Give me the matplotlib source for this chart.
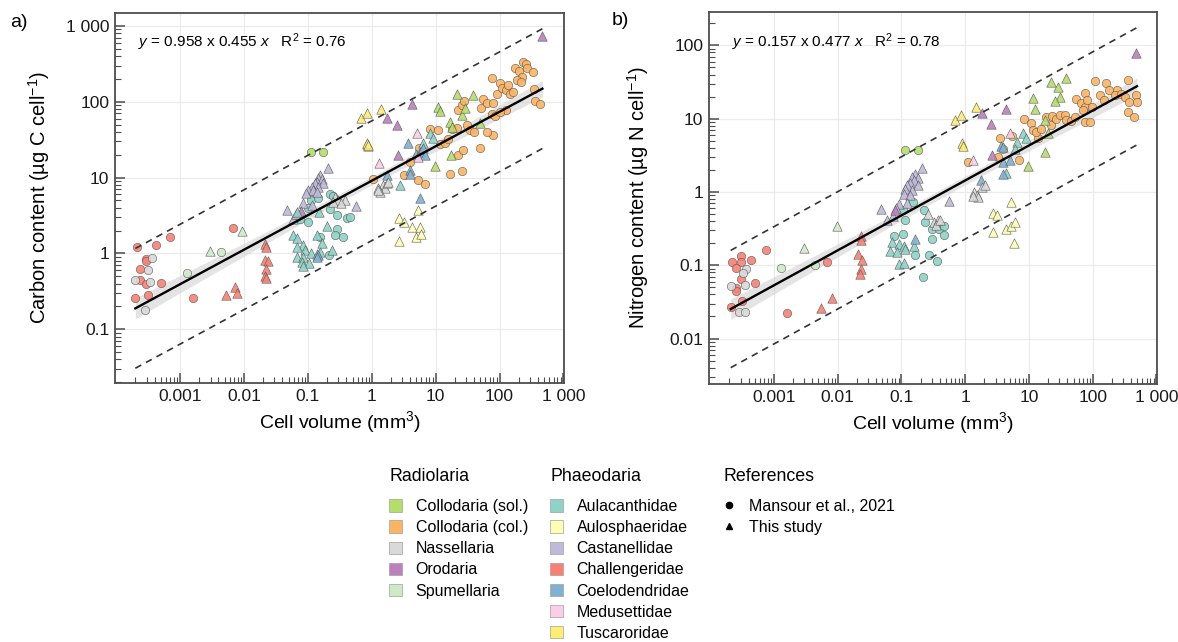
import numpy as np
import matplotlib
matplotlib.use('Agg')
import matplotlib.pyplot as plt
from matplotlib.patches import Patch
from matplotlib.lines import Line2D
from matplotlib.ticker import LogLocator, NullFormatter

plt.rcParams['font.family'] = ['Liberation Sans', 'DejaVu Sans']
plt.rcParams['mathtext.fontset'] = 'custom'
plt.rcParams['mathtext.rm'] = 'Liberation Sans'
plt.rcParams['mathtext.it'] = 'Liberation Sans:italic'
plt.rcParams['mathtext.bf'] = 'Liberation Sans:bold'

# ---------------- panel a: carbon (ug C cell-1) vs cell volume (mm3) ----------------
# circles = Mansour et al., 2021 ; triangles = this study
a_chall_circ_x = [2.1e-4, 4.2e-4, 7.0e-4, 6.7e-3, 2.9e-4, 2.9e-4, 2.4e-4, 2.4e-4, 2.9e-4, 5.0e-4, 2.0e-4, 3.1e-4, 1.6e-3]
a_chall_circ_y = [1.2, 1.28, 1.66, 2.18, 0.84, 0.79, 0.63, 0.44, 0.40, 0.41, 0.26, 0.28, 0.26]
a_nass_circ_x = [3.6e-4, 3.1e-4, 2.0e-4, 3.4e-4, 2.8e-4]
a_nass_circ_y = [0.87, 0.60, 0.44, 0.42, 0.18]
a_spum_circ_x = [4.3e-3, 1.3e-3]
a_spum_circ_y = [1.04, 0.55]
a_csol_circ_x = [0.111, 0.175]
a_csol_circ_y = [21.5, 21.5]
a_aulac_circ_x = [0.112, 0.146, 0.222, 0.102, 0.222, 0.29, 0.102, 0.41, 0.46, 0.29, 0.27, 0.35, 0.155, 0.217, 0.075, 0.245]
a_aulac_circ_y = [5.0, 5.4, 6.1, 4.0, 3.8, 3.2, 2.6, 2.9, 3.0, 2.1, 1.74, 1.66, 1.66, 0.95, 2.8, 5.8]
a_ccol_circ_x = [1.06, 3.2, 4.0, 5.4, 5.2, 6.7, 8.2, 10.8, 11.7, 14.0, 15.5, 16.8, 22.6, 27, 25.6, 18.2, 21.4, 22.6,
                 25.6, 27.8, 30.7, 34.5, 40, 49.5, 50.8, 54.6, 63, 78, 75.5, 80, 75.5, 85, 90, 102, 108, 126, 137,
                 146, 161, 175, 204, 223, 190, 215, 236, 257, 267, 331, 347, 360, 430, 125, 102, 64]
a_ccol_circ_y = [9.6, 10.9, 16, 24.5, 9.2, 8.3, 44, 43, 28, 29, 32.5, 11.2, 20, 22.8, 12.1, 44, 45, 79,
                 90, 101, 49, 43, 40, 24.5, 83, 108, 97, 97, 205, 36.7, 69.5, 64.7, 128, 177, 152, 144, 164,
                 128, 134, 279, 252, 212, 192, 182, 334, 317, 279, 247, 149, 101, 94, 79, 73, 40]

a_spum_tri_x = [2.9e-3, 9.3e-3]
a_spum_tri_y = [1.08, 2.0]
a_chall_tri_x = [7.3e-3, 5.2e-3, 7.9e-3, 0.021, 0.022, 0.021, 0.024, 0.022, 0.021, 0.022]
a_chall_tri_y = [0.36, 0.28, 0.30, 1.33, 1.21, 0.82, 0.79, 0.62, 0.50, 0.47]
a_cast_tri_x = [0.205, 0.155, 0.146, 0.165, 0.138, 0.130, 0.175, 0.115, 0.146, 0.102, 0.122, 0.094, 0.138,
                0.085, 0.115, 0.047, 0.058, 0.065, 0.57]
a_cast_tri_y = [13.2, 10.8, 9.8, 9.5, 8.8, 8.4, 8.4, 7.6, 7.6, 6.8, 6.8, 6.2, 6.5, 4.6, 4.3, 3.7, 2.8, 3.3, 4.2]
a_orod_tri_x = [0.077, 1.75, 2.5, 4.3, 2.55, 468]
a_orod_tri_y = [3.6, 61, 50, 94, 20, 736]
a_aulac_tri_x = [0.067, 0.151, 0.198, 0.059, 0.138, 0.165, 0.067, 0.083, 0.067, 0.090, 0.111, 0.067, 0.085,
                 0.237, 0.155, 0.080, 0.105, 0.085, 0.138, 8.2, 9.2, 2.8, 6.4]
a_aulac_tri_y = [3.5, 3.5, 2.3, 1.74, 1.74, 1.36, 1.58, 1.29, 1.22, 1.1, 1.0, 0.90, 0.90,
                 1.1, 1.05, 0.77, 0.75, 0.68, 0.97, 39, 33, 7.9, 29]
a_coel_tri_x = [0.146, 0.138, 3.7, 4.9, 5.7, 6.4, 6.8, 1.75, 4.0, 3.9, 5.7]
a_coel_tri_y = [0.95, 0.90, 28.8, 20.6, 22, 24.5, 20, 10.9, 12.4, 11.2, 5.3]
a_nass_tri_x = [0.27, 0.30, 0.38, 0.25, 0.33, 1.52, 1.61, 1.27, 1.35, 1.72, 1.82, 1.27]
a_nass_tri_y = [5.5, 5.0, 5.0, 4.8, 4.6, 8.0, 7.2, 7.2, 6.5, 8.4, 8.7, 6.8]
a_tusc_tri_x = [0.85, 0.88, 0.67, 0.84, 1.40, 0.84, 0.88]
a_tusc_tri_y = [28, 26, 61, 72, 81, 29, 27]
a_medu_tri_x = [1.30, 5.1, 5.2]
a_medu_tri_y = [15.7, 39, 18.6]
a_aulos_tri_x = [2.7, 3.2, 5.3, 4.3, 5.6, 4.9, 5.8, 2.7]
a_aulos_tri_y = [2.9, 2.6, 3.7, 2.2, 2.2, 1.66, 1.78, 1.47]
a_csol_tri_x = [21.4, 38, 11.0, 11.7, 25.6, 28.8, 16.8, 17.9, 49.5, 17.2, 9.8]
a_csol_tri_y = [128, 124, 85, 75, 66, 83, 54, 46, 53, 19.6, 14.2]

# ---------------- panel b: nitrogen (ug N cell-1) vs cell volume (mm3) ----------------
b_chall_circ_x = [2.2e-4, 3.1e-4, 3.1e-4, 2.5e-4, 4.4e-4, 7.4e-4, 3.1e-4, 2.5e-4, 2.5e-4, 5.1e-4, 2.1e-4, 3.2e-4, 1.6e-3, 6.9e-3]
b_chall_circ_y = [0.111, 0.132, 0.111, 0.093, 0.117, 0.16, 0.064, 0.049, 0.045, 0.058, 0.027, 0.033, 0.022, 0.11]
b_nass_circ_x = [3.7e-4, 3.3e-4, 2.1e-4, 3.5e-4, 2.8e-4, 3.5e-4]
b_nass_circ_y = [0.090, 0.079, 0.052, 0.054, 0.023, 0.023]
b_spum_circ_x = [1.3e-3, 4.4e-3]
b_spum_circ_y = [0.093, 0.10]
b_csol_circ_x = [0.115, 0.179]
b_csol_circ_y = [3.7, 3.7]
b_aulac_circ_x = [0.151, 0.105, 0.227, 0.115, 0.235, 0.30, 0.39, 0.47, 0.47, 0.30, 0.105, 0.077, 0.164, 0.27, 0.36, 0.221]
b_aulac_circ_y = [0.73, 0.56, 0.56, 0.42, 0.385, 0.31, 0.31, 0.34, 0.26, 0.226, 0.267, 0.25, 0.136, 0.136, 0.113, 0.069]
b_ccol_circ_x = [1.09, 3.5, 3.3, 3.9, 5.5, 7.0, 8.3, 10.9, 11.6, 13.9, 13.1, 15.7, 18.3, 22.5, 23.3, 26.9, 30.3,
                 36.3, 38.5, 46, 52, 55, 66, 74.5, 74.5, 77, 160, 183, 109, 242, 227, 278, 362, 318, 365, 480,
                 494, 362, 450, 81, 99, 70, 92, 128, 153]
b_ccol_circ_y = [2.57, 5.5, 3.0, 3.8, 5.8, 2.77, 9.9, 8.6, 7.1, 5.4, 6.6, 7.3, 10.4, 8.2, 10.8, 9.8, 11.1,
                 11.2, 9.5, 9.3, 10.6, 18.3, 16.4, 22.5, 14.5, 9.0, 30.3, 24.5, 32.5, 24.5, 21, 22, 33.6, 19.9, 17, 21,
                 17, 12.4, 10.6, 17.9, 14.5, 13.1, 9.0, 21, 17.9]

b_spum_tri_x = [3.0e-3, 9.6e-3]
b_spum_tri_y = [0.174, 0.34]
b_chall_tri_x = [5.4e-3, 8.0e-3, 0.023, 0.023, 0.021, 0.024, 0.023, 0.022]
b_chall_tri_y = [0.026, 0.036, 0.25, 0.22, 0.144, 0.117, 0.090, 0.075]
b_cast_tri_x = [0.209, 0.164, 0.146, 0.185, 0.155, 0.137, 0.179, 0.122, 0.115, 0.146, 0.108, 0.137, 0.093,
                0.122, 0.083, 0.047, 0.059, 0.075, 0.56]
b_cast_tri_y = [2.15, 1.78, 1.60, 1.57, 1.44, 1.33, 1.23, 1.23, 1.08, 1.05, 0.95, 0.90, 0.69, 0.71, 0.61,
                0.58, 0.41, 0.47, 0.75]
b_orod_tri_x = [0.080, 2.5, 2.6, 1.81, 4.3, 480]
b_orod_tri_y = [0.56, 8.4, 3.2, 11.8, 13.4, 78]
b_aulac_tri_x = [0.071, 0.090, 0.067, 0.085, 0.108, 0.115, 0.155, 0.090, 0.108, 6.4, 8.1, 9.1, 6.0, 4.3]
b_aulac_tri_y = [0.207, 0.197, 0.156, 0.151, 0.181, 0.169, 0.181, 0.105, 0.109, 4.8, 6.3, 5.4, 3.9, 1.82]
b_coel_tri_x = [0.164, 1.75, 3.7, 3.9, 3.9, 3.9, 5.0]
b_coel_tri_y = [0.226, 1.44, 4.3, 2.57, 1.78, 4.1, 2.7]
b_nass_tri_x = [0.265, 0.32, 0.38, 0.35, 0.40, 1.37, 1.51, 1.81, 2.04, 1.60, 1.34]
b_nass_tri_y = [0.50, 0.39, 0.42, 0.35, 0.41, 1.0, 0.90, 1.17, 1.23, 0.85, 0.87]
b_tusc_tri_x = [0.68, 0.85, 1.47, 0.88, 0.91]
b_tusc_tri_y = [9.5, 11.2, 14.5, 4.7, 4.3]
b_medu_tri_x = [1.34, 5.0]
b_medu_tri_y = [2.7, 6.3]
b_aulos_tri_x = [2.7, 3.2, 5.3, 2.7, 4.4, 5.2, 6.0, 5.8]
b_aulos_tri_y = [0.51, 0.48, 0.73, 0.28, 0.31, 0.34, 0.39, 0.20]
b_csol_tri_x = [21.9, 28.5, 38.5, 31, 25.3, 11.6, 12.3, 17.7, 19.9, 17.7, 9.7]
b_csol_tri_y = [31.8, 26.7, 35.4, 19.5, 17.5, 18.9, 13.4, 9.5, 6.4, 3.5, 2.24]

# fitted log10-log10 models and prediction interval half widths (log units)
fit_a = (0.958, 0.455, 0.76)
fit_b = (0.157, 0.477, 0.78)
pi_a = 0.79
pi_b = 0.80

radiolaria = ['Collodaria (sol.)', 'Collodaria (col.)', 'Nassellaria', 'Orodaria', 'Spumellaria']
phaeodaria = ['Aulacanthidae', 'Aulosphaeridae', 'Castanellidae', 'Challengeridae',
              'Coelodendridae', 'Medusettidae', 'Tuscaroridae']
colors = {
    'Collodaria (sol.)': '#B3DE69', 'Collodaria (col.)': '#FDB462', 'Nassellaria': '#D9D9D9',
    'Orodaria': '#BC80BD', 'Spumellaria': '#CCEBC5',
    'Aulacanthidae': '#8DD3C7', 'Aulosphaeridae': '#FFFFB3', 'Castanellidae': '#BEBADA',
    'Challengeridae': '#FB8072', 'Coelodendridae': '#80B1D3', 'Medusettidae': '#FCCDE5',
    'Tuscaroridae': '#FFED6F',
}

series_a = [
    ('Challengeridae', 'o', a_chall_circ_x, a_chall_circ_y),
    ('Nassellaria', 'o', a_nass_circ_x, a_nass_circ_y),
    ('Spumellaria', 'o', a_spum_circ_x, a_spum_circ_y),
    ('Collodaria (sol.)', 'o', a_csol_circ_x, a_csol_circ_y),
    ('Aulacanthidae', 'o', a_aulac_circ_x, a_aulac_circ_y),
    ('Collodaria (col.)', 'o', a_ccol_circ_x, a_ccol_circ_y),
    ('Spumellaria', '^', a_spum_tri_x, a_spum_tri_y),
    ('Challengeridae', '^', a_chall_tri_x, a_chall_tri_y),
    ('Castanellidae', '^', a_cast_tri_x, a_cast_tri_y),
    ('Orodaria', '^', a_orod_tri_x, a_orod_tri_y),
    ('Aulacanthidae', '^', a_aulac_tri_x, a_aulac_tri_y),
    ('Coelodendridae', '^', a_coel_tri_x, a_coel_tri_y),
    ('Nassellaria', '^', a_nass_tri_x, a_nass_tri_y),
    ('Tuscaroridae', '^', a_tusc_tri_x, a_tusc_tri_y),
    ('Medusettidae', '^', a_medu_tri_x, a_medu_tri_y),
    ('Aulosphaeridae', '^', a_aulos_tri_x, a_aulos_tri_y),
    ('Collodaria (sol.)', '^', a_csol_tri_x, a_csol_tri_y),
]
series_b = [
    ('Challengeridae', 'o', b_chall_circ_x, b_chall_circ_y),
    ('Nassellaria', 'o', b_nass_circ_x, b_nass_circ_y),
    ('Spumellaria', 'o', b_spum_circ_x, b_spum_circ_y),
    ('Collodaria (sol.)', 'o', b_csol_circ_x, b_csol_circ_y),
    ('Aulacanthidae', 'o', b_aulac_circ_x, b_aulac_circ_y),
    ('Collodaria (col.)', 'o', b_ccol_circ_x, b_ccol_circ_y),
    ('Spumellaria', '^', b_spum_tri_x, b_spum_tri_y),
    ('Challengeridae', '^', b_chall_tri_x, b_chall_tri_y),
    ('Castanellidae', '^', b_cast_tri_x, b_cast_tri_y),
    ('Orodaria', '^', b_orod_tri_x, b_orod_tri_y),
    ('Aulacanthidae', '^', b_aulac_tri_x, b_aulac_tri_y),
    ('Coelodendridae', '^', b_coel_tri_x, b_coel_tri_y),
    ('Nassellaria', '^', b_nass_tri_x, b_nass_tri_y),
    ('Tuscaroridae', '^', b_tusc_tri_x, b_tusc_tri_y),
    ('Medusettidae', '^', b_medu_tri_x, b_medu_tri_y),
    ('Aulosphaeridae', '^', b_aulos_tri_x, b_aulos_tri_y),
    ('Collodaria (sol.)', '^', b_csol_tri_x, b_csol_tri_y),
]

x_ticks = [1e-3, 1e-2, 1e-1, 1, 10, 100, 1000]
x_ticklabels = ['0.001', '0.01', '0.1', '1', '10', '100', '1 000']

SPINE = '#4d4d4d'


def draw_panel(ax, series, fit, pi, ylim, yticks, yticklabels, ylabel, ylabel_x):
    for group, marker, xs, ys in series:
        ax.scatter(xs, ys, marker=marker, s=36 if marker == 'o' else 46,
                   c=colors[group], edgecolors='#5a5a5a', linewidths=0.45,
                   alpha=0.9, zorder=3)

    lx = np.log10(np.concatenate([np.asarray(s[2], float) for s in series]))
    b0, b1, r2 = fit
    n = len(lx)
    xm = lx.mean()
    sxx = ((lx - xm) ** 2).sum()
    se = pi / 1.97
    grid = np.linspace(lx.min(), lx.max(), 200)
    fitted = b0 + b1 * grid
    hw = 1.97 * se * np.sqrt(1.0 / n + (grid - xm) ** 2 / sxx)
    xg = 10 ** grid
    ax.fill_between(xg, 10 ** (fitted - hw), 10 ** (fitted + hw), color='#cfcfcf',
                    alpha=0.55, lw=0, zorder=2)
    ax.plot(xg, 10 ** fitted, color='black', lw=1.7, zorder=4)
    for sgn in (1, -1):
        ax.plot(xg, 10 ** (fitted + sgn * pi), color='#333333', lw=1.2,
                ls=(0, (4, 3.2)), zorder=4)

    ax.set_xscale('log')
    ax.set_yscale('log')
    ax.set_xlim(9.6e-5, 1.02e3)
    ax.set_ylim(*ylim)
    ax.set_xticks(x_ticks)
    ax.set_xticklabels(x_ticklabels)
    ax.set_yticks(yticks)
    ax.set_yticklabels(yticklabels)
    for axis in (ax.xaxis, ax.yaxis):
        axis.set_minor_locator(LogLocator(base=10, subs=np.arange(2, 10), numticks=100))
        axis.set_minor_formatter(NullFormatter())
    ax.tick_params(which='major', direction='in', length=7.5, width=1.1, color=SPINE,
                   labelsize=12.5, labelcolor='#1a1a1a', pad=4)
    ax.tick_params(which='minor', direction='in', length=4.2, width=0.8, color=SPINE)
    ax.grid(True, which='major', color='#ebebeb', lw=0.9)
    ax.set_axisbelow(True)
    for sp in ax.spines.values():
        sp.set_color(SPINE)
        sp.set_linewidth(1.3)

    ax.set_xlabel('Cell volume (mm$^3$)', fontsize=14)
    ax.xaxis.set_label_coords(0.5, -0.07)
    ax.set_ylabel(ylabel, fontsize=14.5)
    ax.yaxis.set_label_coords(ylabel_x, 0.5)

    eq = r'$\mathit{y}$ = %.3f x %.3f $\mathit{x}$   R$^2$ = %.2f' % (b0, b1, r2)
    ax.text(0.052, 0.92, eq, transform=ax.transAxes, fontsize=11, va='center', ha='left')


fig = plt.figure(figsize=(11.78, 6.42), dpi=100)
ax_a = fig.add_axes([0.0976, 0.4034, 0.3812, 0.5763])
ax_b = fig.add_axes([0.6019, 0.4019, 0.3803, 0.5794])

draw_panel(ax_a, series_a, fit_a, pi_a, (0.0195, 1480), [0.1, 1, 10, 100, 1000],
           ['0.1', '1', '10', '100', '1 000'], 'Carbon content (µg C cell$^{-1}$)', -0.140)
draw_panel(ax_b, series_b, fit_b, pi_b, (0.0024, 285), [0.01, 0.1, 1, 10, 100],
           ['0.01', '0.1', '1', '10', '100'], 'Nitrogen content (µg N cell$^{-1}$)', -0.130)

fig.text(0.009, 0.965, 'a)', fontsize=14, va='center', ha='left')
fig.text(0.519, 0.968, 'b)', fontsize=14, va='center', ha='left')

# legends
leg_kw = dict(loc='upper left', frameon=False, fontsize=11.5, title_fontsize=12.8,
              alignment='left', borderpad=0, borderaxespad=0, labelspacing=0.38,
              handlelength=0.83, handleheight=0.83, handletextpad=0.83)
rad_handles = [Patch(facecolor=colors[g], edgecolor='#a0a0a0', lw=0.5) for g in radiolaria]
pha_handles = [Patch(facecolor=colors[g], edgecolor='#a0a0a0', lw=0.5) for g in phaeodaria]
ref_handles = [Line2D([], [], ls='none', marker='o', color='black', markersize=4.5),
               Line2D([], [], ls='none', marker='^', color='black', markersize=5)]

leg1 = fig.legend(rad_handles, radiolaria, title='Radiolaria',
                  bbox_to_anchor=(0.3303, 0.2705), **leg_kw)
leg2 = fig.legend(pha_handles, phaeodaria, title='Phaeodaria',
                  bbox_to_anchor=(0.467, 0.2705), **leg_kw)
kw3 = dict(leg_kw)
kw3.update(handlelength=0.68, handletextpad=0.95)
leg3 = fig.legend(ref_handles, ['Mansour et al., 2021', 'This study'], title='References',
                  bbox_to_anchor=(0.614, 0.2705), **kw3)
for lg in (leg1, leg2, leg3):
    lg._legend_box.sep = 10

fig.savefig('out.png', dpi=100)
